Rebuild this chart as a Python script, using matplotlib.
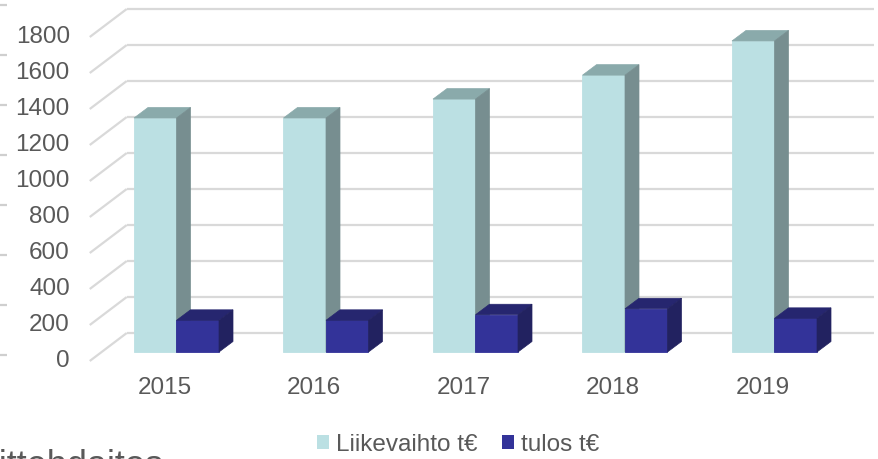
import matplotlib
matplotlib.use("Agg")
import matplotlib.pyplot as plt
from matplotlib.patches import Patch

# ---- data ----
years = ["2015", "2016", "2017", "2018", "2019"]
liikevaihto = [1300, 1300, 1405, 1538, 1728]
tulos = [176, 176, 207, 240, 187]
yticks = [0, 200, 400, 600, 800, 1000, 1200, 1400, 1600, 1800]
series_names = ["Liikevaihto t€", "tulos t€"]

# ---- colours / style ----
FONT = "Liberation Sans"
TXT = "#595959"
GRID = "#d9d9d9"
FS = 17.5
C1_FRONT, C1_TOP, C1_SIDE = "#bbe0e3", "#8aaaab", "#778e90"
C2_FRONT, C2_TOP, C2_SIDE = "#333399", "#26266f", "#222260"

W, H = 879, 459
fig = plt.figure(figsize=(W / 100, H / 100), dpi=100)
ax = fig.add_axes([0, 0, 1, 1])
ax.axis("off")

# pixel layout of the pseudo-3D plot
PX_CAT = 149.5     # px per category
PX_VAL = 0.18      # px per value unit
X0 = 176.5         # px of category 0 centre (bar plane)
Y0 = 352.0         # px (from top) of value 0 (bar plane)
ax.set_xlim((0 - X0) / PX_CAT, (W - X0) / PX_CAT)
ax.set_ylim((Y0 - H) / PX_VAL, Y0 / PX_VAL)

def dx(px):
    return px / PX_CAT

def dy(px):
    return px / PX_VAL

# depth offsets (pixels: right, up)
back_dx, back_dy = dx(25), dy(19)
front_dx, front_dy = dx(-12), dy(-9)
bar_dx, bar_dy = dx(14), dy(10.5)
bar_w = dx(42.5)

xl, xr = -0.5, len(years) - 0.5

# gridlines: back wall + left wall diagonals
for v in yticks:
    ax.plot([xl + back_dx, xr + back_dx], [v + back_dy, v + back_dy],
            color=GRID, lw=1.6, solid_capstyle="butt", zorder=1)
    ax.plot([xl + front_dx, xl + back_dx], [v + front_dy, v + back_dy],
            color=GRID, lw=1.6, solid_capstyle="butt", zorder=1)
    ax.text(xl + front_dx - dx(20), v + front_dy, str(v), ha="right",
            va="center", fontsize=FS, color=TXT, family=FONT)

def bar3d(x0, w, h, front, top, side, z):
    x1 = x0 + w
    ax.fill([x0, x1, x1, x0], [0, 0, h, h], color=front, lw=0.6,
            ec=front, zorder=z)
    ax.fill([x0, x1, x1 + bar_dx, x0 + bar_dx],
            [h, h, h + bar_dy, h + bar_dy], color=top, lw=0.5, ec=top, zorder=z)
    ax.fill([x1, x1 + bar_dx, x1 + bar_dx, x1],
            [0, bar_dy, h + bar_dy, h], color=side, lw=0.5, ec=side, zorder=z)

for i, (a, b) in enumerate(zip(liikevaihto, tulos)):
    bar3d(i - bar_w, bar_w, a, C1_FRONT, C1_TOP, C1_SIDE, 2 + 2 * i)
    bar3d(i, bar_w, b, C2_FRONT, C2_TOP, C2_SIDE, 3 + 2 * i)
    ax.text(i + front_dx, front_dy - dy(27), years[i], ha="center",
            va="center", fontsize=FS, color=TXT, family=FONT)

# small marks at far left edge (part of surrounding slide)
for k in range(8):
    yy = 1 - (5 + 50 * k) / H
    ax.plot([0, 7 / W], [yy, yy], transform=ax.transAxes, color="#cfcfcf",
            lw=1.6, solid_capstyle="butt", clip_on=False)

# legend
handles = [Patch(facecolor=C1_FRONT, edgecolor="none"),
           Patch(facecolor=C2_FRONT, edgecolor="none")]
fig.legend(handles, series_names, loc="center",
           bbox_to_anchor=(458 / W, 1 - 445 / H), ncol=2, frameon=False,
           prop={"family": FONT, "size": FS}, labelcolor=TXT,
           handlelength=0.5, handleheight=0.5, handletextpad=0.3,
           columnspacing=1.0, borderpad=0, borderaxespad=0)

# partially visible slide text at the bottom-left (cut by the image edge,
# as in the reference)
fig.text(-8 / W, 1 - 449 / H, "iittehdaitos", ha="left", va="top",
         fontsize=26, color=TXT, family=FONT)

fig.savefig("out.png", dpi=100)
